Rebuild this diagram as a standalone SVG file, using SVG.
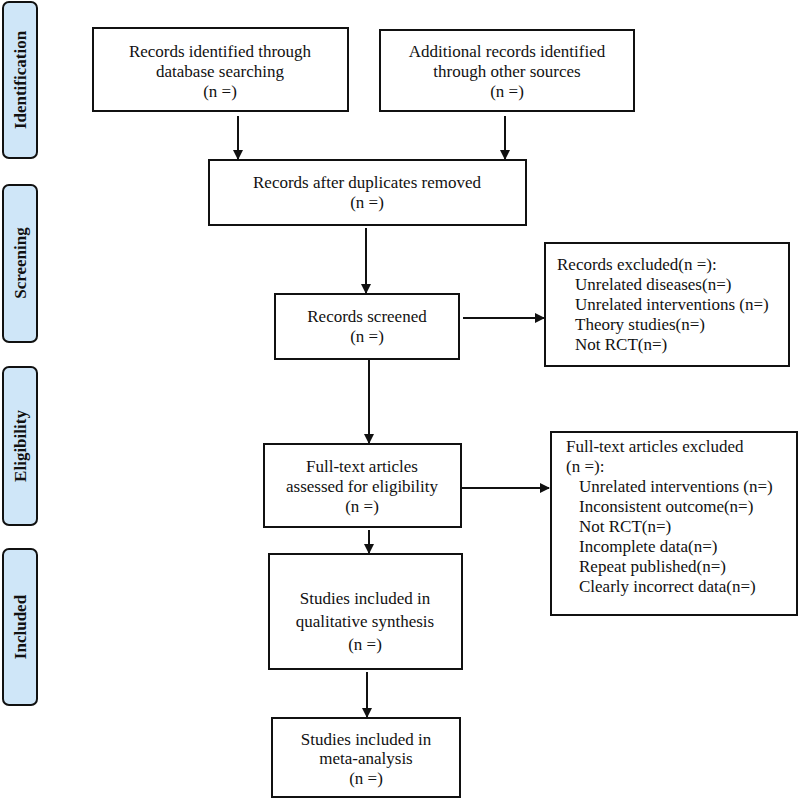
<svg xmlns="http://www.w3.org/2000/svg" width="800" height="801" viewBox="0 0 800 801">
<style>
.box{fill:#fff;stroke:#111;stroke-width:2}
.side{fill:#cfe6f8;stroke:#111;stroke-width:2}
.t{font-family:"Liberation Serif","Times New Roman",serif;font-size:17px;fill:#111}
.c{text-anchor:middle}
.s{font-family:"Liberation Serif","Times New Roman",serif;font-size:17px;font-weight:bold;fill:#111;text-anchor:middle}
.ln{stroke:#111;stroke-width:2;fill:none}
</style>
<defs>
<marker id="ah" markerWidth="10" markerHeight="10" refX="9" refY="5" orient="auto" markerUnits="userSpaceOnUse">
<path d="M0,0 L10,5 L0,10 Z" fill="#111"/>
</marker>
</defs>
<rect width="800" height="801" fill="#fff"/>
<g id="side-identification"><rect class="side" x="3" y="2" width="34" height="156" rx="6"/><text class="s" transform="translate(26,80) rotate(-90)">Identification</text></g>
<g id="side-screening"><rect class="side" x="3" y="185" width="34" height="157" rx="6"/><text class="s" transform="translate(26,263) rotate(-90)">Screening</text></g>
<g id="side-eligibility"><rect class="side" x="3" y="367" width="34" height="158" rx="6"/><text class="s" transform="translate(26,446) rotate(-90)">Eligibility</text></g>
<g id="side-included"><rect class="side" x="3" y="549" width="34" height="156" rx="6"/><text class="s" transform="translate(26,627) rotate(-90)">Included</text></g>

<g id="n-db"><rect class="box" x="93" y="28" width="255" height="83"/>
<text class="t c" x="220" y="57">Records identified through</text>
<text class="t c" x="220" y="77">database searching</text>
<text class="t c" x="220" y="97">(n =)</text></g>
<g id="n-other"><rect class="box" x="380" y="30" width="254" height="81"/>
<text class="t c" x="507" y="57">Additional records identified</text>
<text class="t c" x="507" y="77">through other sources</text>
<text class="t c" x="507" y="97">(n =)</text></g>
<g id="n-dup"><rect class="box" x="209" y="160" width="317" height="65"/>
<text class="t c" x="367" y="188">Records after duplicates removed</text>
<text class="t c" x="367" y="208">(n =)</text></g>
<g id="n-screened"><rect class="box" x="275" y="294" width="184" height="65"/>
<text class="t c" x="367" y="322">Records screened</text>
<text class="t c" x="367" y="342">(n =)</text></g>
<g id="n-excl1"><rect class="box" x="545" y="243" width="244" height="123"/>
<text class="t" x="557" y="270">Records excluded(n =):</text>
<text class="t" x="575" y="290">Unrelated diseases(n=)</text>
<text class="t" x="575" y="310">Unrelated interventions (n=)</text>
<text class="t" x="575" y="330">Theory studies(n=)</text>
<text class="t" x="575" y="350">Not RCT(n=)</text></g>
<g id="n-full"><rect class="box" x="264" y="444" width="197" height="83"/>
<text class="t c" x="362" y="472">Full-text articles</text>
<text class="t c" x="362" y="492">assessed for eligibility</text>
<text class="t c" x="362" y="512">(n =)</text></g>
<g id="n-excl2"><rect class="box" x="551" y="432" width="246" height="183"/>
<text class="t" x="566" y="452">Full-text articles excluded</text>
<text class="t" x="566" y="472">(n =):</text>
<text class="t" x="579" y="492">Unrelated interventions (n=)</text>
<text class="t" x="579" y="512">Inconsistent outcome(n=)</text>
<text class="t" x="579" y="532">Not RCT(n=)</text>
<text class="t" x="579" y="552">Incomplete data(n=)</text>
<text class="t" x="579" y="572">Repeat published(n=)</text>
<text class="t" x="579" y="592">Clearly incorrect data(n=)</text></g>
<g id="n-qual"><rect class="box" x="269" y="554" width="193" height="115"/>
<text class="t c" x="365" y="604">Studies included in</text>
<text class="t c" x="365" y="627">qualitative synthesis</text>
<text class="t c" x="365" y="650">(n =)</text></g>
<g id="n-meta"><rect class="box" x="272" y="718" width="188" height="79"/>
<text class="t c" x="366" y="745">Studies included in</text>
<text class="t c" x="366" y="764">meta-analysis</text>
<text class="t c" x="366" y="784">(n =)</text></g>

<g id="connectors">
<line class="ln" x1="238" y1="116" x2="238" y2="159" marker-end="url(#ah)"/>
<line class="ln" x1="505" y1="116" x2="505" y2="159" marker-end="url(#ah)"/>
<line class="ln" x1="366" y1="228" x2="366" y2="293" marker-end="url(#ah)"/>
<line class="ln" x1="463" y1="318" x2="544" y2="318" marker-end="url(#ah)"/>
<line class="ln" x1="369" y1="359" x2="369" y2="443" marker-end="url(#ah)"/>
<line class="ln" x1="461" y1="488" x2="549" y2="488" marker-end="url(#ah)"/>
<line class="ln" x1="369" y1="530" x2="369" y2="553" marker-end="url(#ah)"/>
<line class="ln" x1="367" y1="672" x2="367" y2="717" marker-end="url(#ah)"/>
</g>
</svg>
